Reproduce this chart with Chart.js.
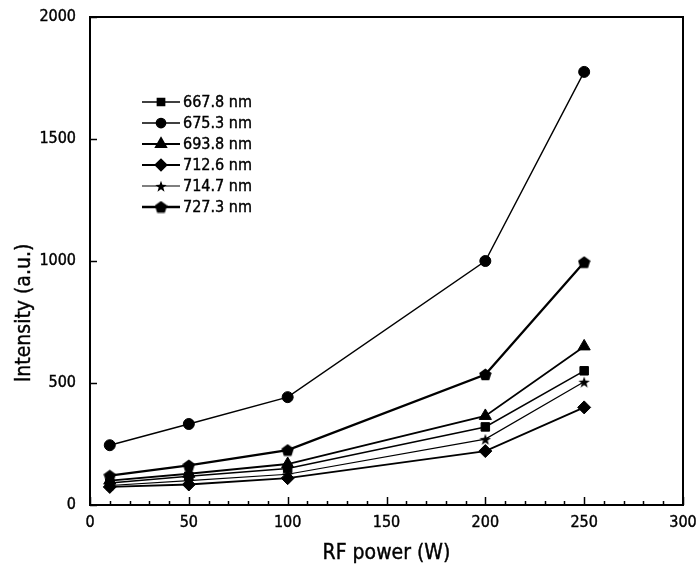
<!DOCTYPE html>
<html>
<head>
<meta charset="utf-8">
<script src="https://cdn.jsdelivr.net/npm/chart.js@4/dist/chart.umd.min.js"></script>
<style>
  html, body { margin: 0; padding: 0; background: #fff; }
  #wrap { width: 696px; height: 577px; position: relative; }
</style>
</head>
<body>
<div id="wrap"><canvas id="c"></canvas></div>
<script>
// RF power (W) and emission line intensities (a.u.)
const power = [10, 50, 100, 200, 250];
const line667_8 = [90, 118, 150, 320, 550];
const line675_3 = [245, 332, 442, 1000, 1775];
const line693_8 = [100, 128, 168, 365, 650];
const line712_6 = [74, 84, 110, 221, 400];
const line714_7 = [80, 100, 126, 270, 505];
const line727_3 = [120, 162, 225, 535, 995];

const seriesNames = ['667.8 nm', '675.3 nm', '693.8 nm', '712.6 nm', '714.7 nm', '727.3 nm'];
const xTicks = [0, 50, 100, 150, 200, 250, 300];
const yTicks = [0, 500, 1000, 1500, 2000];

const FONT = "'DejaVu Sans Condensed', 'DejaVu Sans', sans-serif";

// Small filled marker shapes that Chart.js has no built-in style for
function makeMarker(kind, size) {
  const cv = document.createElement('canvas');
  cv.width = size; cv.height = size;
  const g = cv.getContext('2d');
  const c = size / 2;
  g.fillStyle = '#000';
  g.beginPath();
  if (kind === 'pentagon') {
    const r = size / 2;
    for (let i = 0; i < 5; i++) {
      const a = -Math.PI / 2 + i * 2 * Math.PI / 5;
      const px = c + r * Math.cos(a), py = c + 0.5 + r * Math.sin(a);
      i ? g.lineTo(px, py) : g.moveTo(px, py);
    }
  } else {
    const ro = size / 2, ri = size / 5;
    for (let i = 0; i < 10; i++) {
      const a = -Math.PI / 2 + i * Math.PI / 5;
      const r = i % 2 ? ri : ro;
      const px = c + r * Math.cos(a), py = c + 0.8 + r * Math.sin(a);
      i ? g.lineTo(px, py) : g.moveTo(px, py);
    }
  }
  g.closePath();
  g.fill();
  return cv;
}
const pentagon = makeMarker('pentagon', 13);
const starMark = makeMarker('star', 12);

function toXY(vals) { return vals.map((v, i) => ({ x: power[i], y: v })); }

const datasets = [
  { label: seriesNames[0], data: toXY(line667_8), pointStyle: 'rect', pointRadius: 6, borderWidth: 1.5 },
  { label: seriesNames[1], data: toXY(line675_3), pointStyle: 'circle', pointRadius: 5.5, borderWidth: 1.4 },
  { label: seriesNames[2], data: toXY(line693_8), pointStyle: 'triangle', pointRadius: 7, borderWidth: 1.8 },
  { label: seriesNames[3], data: toXY(line712_6), pointStyle: 'rectRot', pointRadius: 6.5, borderWidth: 1.8 },
  { label: seriesNames[4], data: toXY(line714_7), pointStyle: starMark, pointRadius: 6, borderWidth: 1.2 },
  { label: seriesNames[5], data: toXY(line727_3), pointStyle: pentagon, pointRadius: 6.5, borderWidth: 2.3 }
].map(d => Object.assign({
  borderColor: '#000',
  backgroundColor: '#000',
  pointBackgroundColor: '#000',
  pointBorderColor: '#000',
  pointBorderWidth: 1,
  tension: 0,
  fill: false
}, d));

// Text with a hairline outline so the glyphs read a little heavier
function heavyText(ctx, txt, x, y) {
  ctx.fillText(txt, x, y);
  ctx.strokeText(txt, x, y);
}

// Frame, inward ticks, tick labels, axis titles and the in-plot legend
const decorations = {
  id: 'decorations',
  afterDatasetsDraw(chart) {
    const { ctx, chartArea: a, scales: { x, y } } = chart;
    ctx.save();
    ctx.strokeStyle = '#000';
    ctx.fillStyle = '#000';

    // frame
    ctx.lineWidth = 2;
    ctx.strokeRect(a.left, a.top, a.right - a.left, a.bottom - a.top);

    // x ticks (major every 50, minor every 10)
    ctx.lineWidth = 1.5;
    for (let v = 0; v <= 300; v += 10) {
      const px = Math.round(x.getPixelForValue(v)) + 0.5;
      const len = v % 50 === 0 ? 8 : 4;
      ctx.beginPath();
      ctx.moveTo(px, a.bottom);
      ctx.lineTo(px, a.bottom - len);
      ctx.stroke();
    }
    // y ticks (major only)
    yTicks.forEach(v => {
      const py = Math.round(y.getPixelForValue(v)) + 0.5;
      ctx.beginPath();
      ctx.moveTo(a.left, py);
      ctx.lineTo(a.left + 7, py);
      ctx.stroke();
    });

    ctx.lineWidth = 0.4;
    // tick labels
    ctx.font = '16px ' + FONT;
    ctx.textAlign = 'center';
    ctx.textBaseline = 'middle';
    xTicks.forEach(v => heavyText(ctx, String(v), x.getPixelForValue(v), a.bottom + 18));
    ctx.textAlign = 'right';
    yTicks.forEach(v => heavyText(ctx, String(v), a.left - 14, y.getPixelForValue(v)));

    // axis titles
    ctx.font = '21px ' + FONT;
    ctx.textAlign = 'center';
    heavyText(ctx, 'RF power (W)', (a.left + a.right) / 2, 554);
    ctx.save();
    ctx.translate(25, 313);
    ctx.rotate(-Math.PI / 2);
    heavyText(ctx, 'Intensity (a.u.)', 0, 0);
    ctx.restore();

    // legend
    const lx0 = 142, lx1 = 180, mx = 161, tx = 183, ly0 = 102, dy = 21;
    chart.data.datasets.forEach((ds, i) => {
      const ly = ly0 + i * dy;
      ctx.lineWidth = ds.borderWidth;
      ctx.beginPath();
      ctx.moveTo(lx0, ly);
      ctx.lineTo(lx1, ly);
      ctx.stroke();
      Chart.helpers.drawPoint(ctx, {
        pointStyle: ds.pointStyle,
        radius: ds.pointRadius * 0.85,
        rotation: 0,
        borderWidth: 1
      }, mx, ly);
      ctx.fillStyle = '#000';
      ctx.strokeStyle = '#000';
      ctx.lineWidth = 0.4;
      ctx.font = '16px ' + FONT;
      ctx.textAlign = 'left';
      heavyText(ctx, ds.label, tx, ly + 1);
    });

    ctx.restore();
  }
};

new Chart(document.getElementById('c'), {
  type: 'line',
  data: { datasets },
  options: {
    responsive: true,
    maintainAspectRatio: false,
    animation: false,
    layout: { padding: { left: 90, top: 17, right: 13, bottom: 72 } },
    plugins: { legend: { display: false }, tooltip: { enabled: false } },
    scales: {
      x: { type: 'linear', min: 0, max: 300, display: false },
      y: { type: 'linear', min: 0, max: 2000, display: false }
    }
  },
  plugins: [decorations]
});
</script>
</body>
</html>
